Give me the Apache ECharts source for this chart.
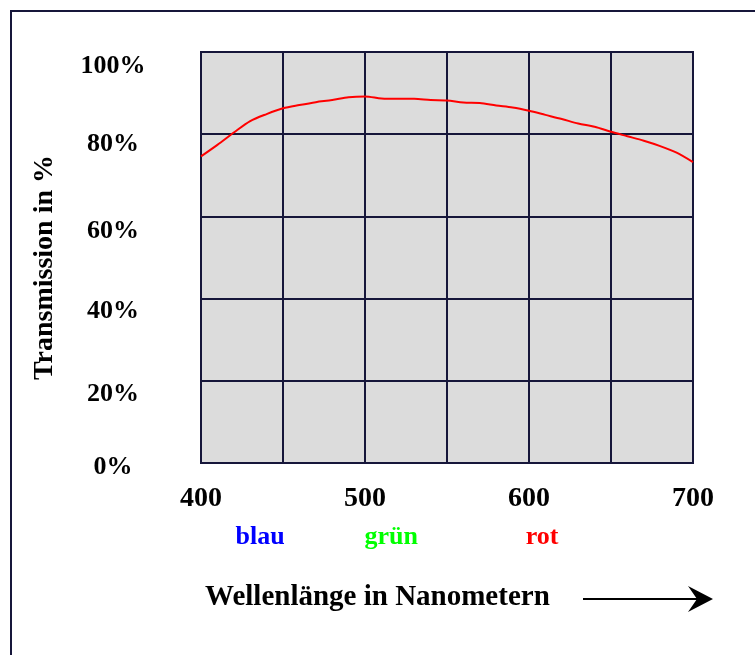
<!DOCTYPE html>
<html>
<head>
<meta charset="utf-8">
<script src="https://cdn.jsdelivr.net/npm/echarts@6/dist/echarts.min.js"></script>
<style>html,body{margin:0;padding:0;background:#fff;}#c{width:755px;height:655px;}</style>
</head>
<body>
<div id="c"></div>
<script>
const wavelengths = [400,410,420,430,440,450,460,470,480,490,500,510,520,530,540,550,560,570,580,590,600,610,620,630,640,650,660,670,680,690,700];
const transmission = [74.6,77.4,80.4,83.2,84.9,86.3,87.1,87.8,88.3,89.0,89.2,88.7,88.6,88.6,88.3,88.2,87.7,87.6,87.0,86.5,85.7,84.7,83.7,82.6,81.8,80.6,79.5,78.4,77.1,75.5,73.2];
const xTickValues = [400,500,600,700];
const yTickValues = [0,20,40,60,80,100];
const bandNames = ['blau','grün','rot'];
const bandCenters = [436,516,608];
const bandColors = ['#0000ff','#00ff00','#ff0000'];
const yAxisTitle = 'Transmission in %';
const xAxisTitle = 'Wellenlänge in Nanometern';

const FONT = '"Liberation Serif","Times New Roman",serif';
const NAVY = '#16163a';
const yOffsets = {100:14.5, 80:10, 60:14.5, 40:13, 20:13, 0:4};
const rich = {};
yTickValues.forEach(v => {
  rich['o'+v] = {fontFamily: FONT, fontWeight:'bold', fontSize:26, color:'#000', padding:[2*yOffsets[v],0,0,0]};
});

const chart = echarts.init(document.getElementById('c'), null, {renderer:'canvas'});
const option = {
  animation:false,
  backgroundColor:'#ffffff',
  title:{
    text:xAxisTitle, left:200, top:578,
    textStyle:{fontFamily:FONT, fontWeight:'bold', fontSize:29, color:'#000'}
  },
  grid:{left:201, top:52, right:62, bottom:192, show:true, backgroundColor:'#dcdcdc', borderColor:NAVY, borderWidth:2},
  xAxis:{
    type:'value', min:400, max:700, interval:50,
    axisLine:{show:false}, axisTick:{show:false},
    splitLine:{show:true, lineStyle:{color:NAVY, width:2}},
    axisLabel:{
      margin:22, color:'#000', fontFamily:FONT, fontWeight:'bold', fontSize:28,
      formatter: v => xTickValues.indexOf(v) >= 0 ? String(v) : ''
    }
  },
  yAxis:{
    type:'value', min:0, max:100, interval:20,
    name:yAxisTitle, nameLocation:'middle', nameRotate:90, nameGap:142,
    nameTextStyle:{fontFamily:FONT, fontWeight:'bold', fontSize:28, color:'#000', padding:[0,20,0,0]},
    axisLine:{show:false}, axisTick:{show:false},
    splitLine:{show:true, lineStyle:{color:NAVY, width:2}},
    axisLabel:{
      margin:88, align:'center', color:'#000', fontFamily:FONT, fontWeight:'bold', fontSize:26,
      formatter: v => '{o'+v+'|'+v+'%}', rich: rich
    }
  },
  series:[{
    type:'line', data: wavelengths.map((w,i)=>[w, transmission[i]]),
    showSymbol:false, smooth:0.3, lineStyle:{color:'#ff0000', width:2}, z:5
  }]
};
chart.setOption(option);

const labelY = 537;
const graphics = bandNames.map((n,i) => ({
  type:'text',
  x: chart.convertToPixel({xAxisIndex:0}, bandCenters[i]),
  y: labelY,
  style:{text:n, fill:bandColors[i], fontFamily:FONT, fontWeight:'bold', fontSize:26, align:'center', verticalAlign:'middle'}
}));
graphics.push(
  {type:'rect', shape:{x:11, y:11, width:900, height:900}, style:{fill:null, stroke:NAVY, lineWidth:2}},
  {type:'line', shape:{x1:583, y1:599, x2:705, y2:599}, style:{stroke:'#000', lineWidth:2}},
  {type:'polygon', shape:{points:[[688,586],[713,599],[688,612],[697,599]]}, style:{fill:'#000'}}
);
chart.setOption({graphic: graphics});
</script>
</body>
</html>
